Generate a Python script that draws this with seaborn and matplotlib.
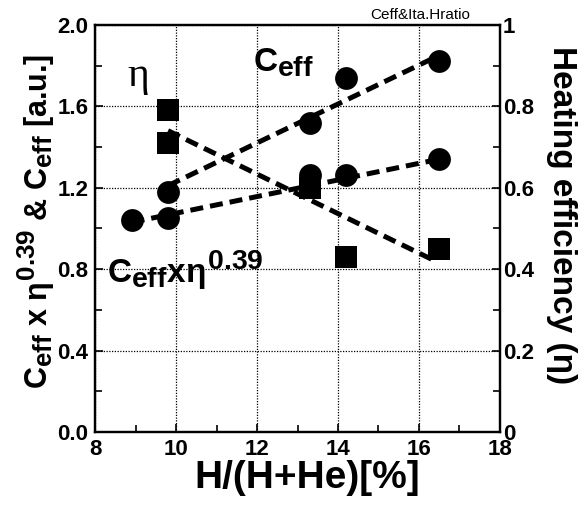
import numpy as np
import pandas as pd
import seaborn as sns
import matplotlib
matplotlib.use("Agg")
import matplotlib.pyplot as plt
import matplotlib._mathtext as mt
from matplotlib.ticker import MultipleLocator, FuncFormatter

# measured points, H/(H+He) in %
ceff_x = [9.8, 13.3, 14.2, 16.5]
ceff_y = [1.18, 1.52, 1.74, 1.82]
ceff_eta_x = [8.9, 9.8, 13.3, 14.2, 16.5]
ceff_eta_y = [1.04, 1.05, 1.26, 1.26, 1.34]
eta_x = [9.8, 9.8, 13.3, 14.2, 16.5]
eta_y = [0.79, 0.71, 0.60, 0.43, 0.45]

# fitted trend lines (end points)
ceff_fit_x = [9.8, 16.5]
ceff_fit_y = [1.21, 1.85]
ceff_eta_fit_x = [8.9, 16.5]
ceff_eta_fit_y = [1.03, 1.34]
eta_fit_x = [9.8, 16.4]
eta_fit_y = [0.74, 0.42]

# sub/superscripts nearly full size like the original
mt.SHRINK_FACTOR = 0.85

sns.set_style("ticks")
plt.rcParams["font.family"] = ["Liberation Sans", "DejaVu Sans"]
plt.rcParams["font.weight"] = "bold"
plt.rcParams["mathtext.fontset"] = "custom"
plt.rcParams["mathtext.rm"] = "Liberation Sans:bold"
plt.rcParams["mathtext.it"] = "Liberation Sans:bold"
plt.rcParams["mathtext.bf"] = "Liberation Sans:bold"
plt.rcParams["axes.linewidth"] = 1.6
for k in ["text.color", "axes.labelcolor", "xtick.color", "ytick.color", "axes.edgecolor"]:
    plt.rcParams[k] = "black"

fig = plt.figure(figsize=(5.84, 5.07), dpi=100)
ax = fig.add_axes([0.163, 0.148, 0.693, 0.803])
ax2 = ax.twinx()

circ_df = pd.DataFrame({"x": ceff_x + ceff_eta_x, "y": ceff_y + ceff_eta_y})
sq_df = pd.DataFrame({"x": eta_x, "y": eta_y})

dash_kw = dict(color="black", linewidth=3.6, dashes=[(2.6, 1.4)], legend=False)
for fx, fy in [(ceff_fit_x, ceff_fit_y), (ceff_eta_fit_x, ceff_eta_fit_y)]:
    d = pd.DataFrame({"x": fx, "y": fy, "s": "a"})
    sns.lineplot(data=d, x="x", y="y", style="s", ax=ax, **dash_kw)
d = pd.DataFrame({"x": eta_fit_x, "y": eta_fit_y, "s": "a"})
sns.lineplot(data=d, x="x", y="y", style="s", ax=ax2, **dash_kw)

sns.scatterplot(data=circ_df, x="x", y="y", ax=ax, marker="o", s=270,
                color="black", edgecolor="black", linewidth=0, zorder=5)
sns.scatterplot(data=sq_df, x="x", y="y", ax=ax2, marker="s", s=230,
                color="black", edgecolor="black", linewidth=0, zorder=5)

ax.set_xlim(8, 18)
ax.set_ylim(0, 2.0)
ax2.set_ylim(0, 1)
ax.xaxis.set_major_locator(MultipleLocator(2))
ax.xaxis.set_minor_locator(MultipleLocator(1))
ax.yaxis.set_major_locator(MultipleLocator(0.4))
ax.yaxis.set_minor_locator(MultipleLocator(0.2))
ax2.yaxis.set_major_locator(MultipleLocator(0.2))
ax2.yaxis.set_minor_locator(MultipleLocator(0.1))
ax.yaxis.set_major_formatter(FuncFormatter(lambda v, p: f"{v:.1f}"))
ax2.yaxis.set_major_formatter(
    FuncFormatter(lambda v, p: f"{v:.0f}" if abs(v - round(v)) < 1e-6 else f"{v:.1f}"))

ax.grid(True, which="major", color="black", linestyle=(0, (1, 1.2)), linewidth=0.9)
for a in (ax, ax2):
    a.tick_params(which="both", direction="in", labelsize=16, width=1.2)
    a.tick_params(which="major", length=6)
    a.tick_params(which="minor", length=5)
ax.tick_params(which="both", pad=5)
ax2.tick_params(which="both", pad=2)
ax.tick_params(axis="y", which="both", right=False)
for lbl in ax.get_xticklabels() + ax.get_yticklabels() + ax2.get_yticklabels():
    lbl.set_fontweight("bold")

ax.set_xlabel("H/(H+He)[%]", fontsize=28, fontweight="bold", labelpad=0)
ax.set_ylabel(r"$C_{eff}$ x $\eta^{0.39}$ & $C_{eff}$ [a.u.]", fontsize=22,
              fontweight="bold", labelpad=0)
ax2.set_ylabel("Heating efficiency (η)", fontsize=24, fontweight="bold",
               rotation=270, labelpad=31)
ax.xaxis.label.set_x(0.523)
ax.yaxis.label.set_y(0.517)
ax2.yaxis.label.set_y(0.533)

ax.text(8.8, 1.70, "η", fontsize=30, family="Liberation Serif", fontweight="normal")
ax.text(11.9, 1.77, r"$C_{eff}$", fontsize=24)
ax.text(8.28, 0.73, r"$C_{eff}$x$\eta^{0.39}$", fontsize=24)
fig.text(0.719, 0.970, "Ceff&Ita.Hratio", fontsize=11, fontweight="normal",
         ha="center", va="center")

fig.savefig("out.png", dpi=100)
